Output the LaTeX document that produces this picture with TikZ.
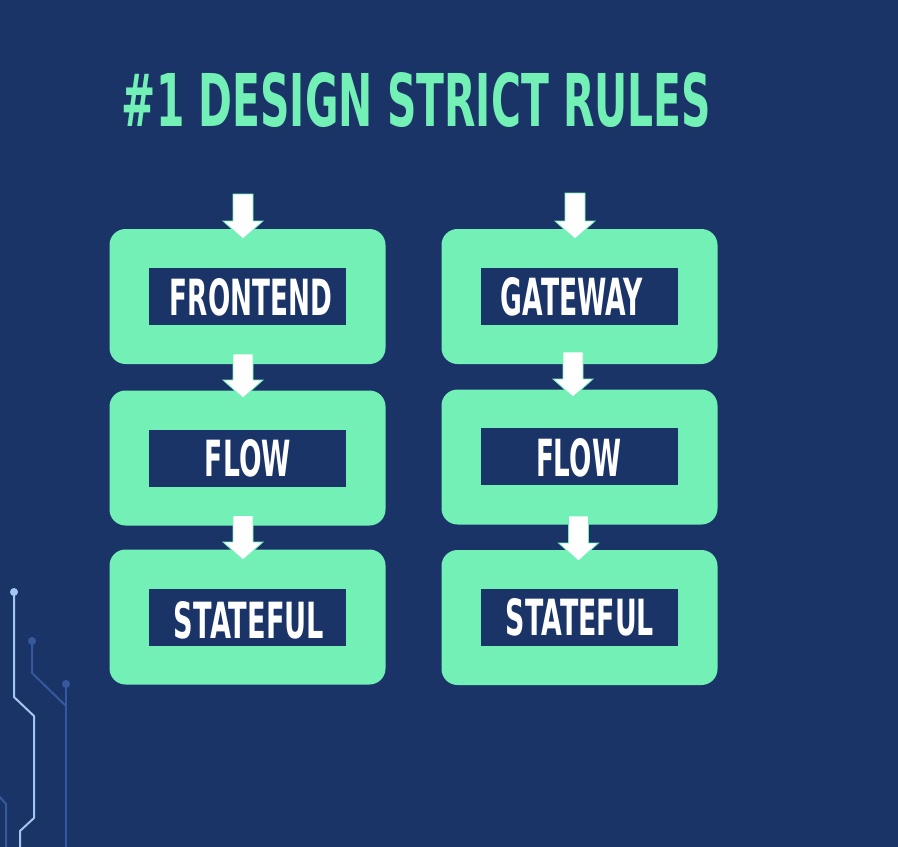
\documentclass[tikz,border=0pt]{standalone}
\usepackage{fontspec}
\usepackage{graphicx}
\setmainfont{DejaVu Sans}
\usetikzlibrary{calc}

\definecolor{navy}{HTML}{1B3468}
\definecolor{mint}{HTML}{72F0B6}
\definecolor{traceLight}{HTML}{A3C6F0}
\definecolor{traceDark}{HTML}{36599E}

% tall condensed caps: text squeezed into a box of given width and height (pt)
\newcommand\squeeze[3]{\resizebox{#1pt}{#2pt}{\bfseries #3}}

% white block arrow: #1 = top of the shaft, #2 = tip
\newcommand\blockarrow[2]{%
  \path[blockarrow] let \p1=(#1), \p2=(#2) in
    (\x2,\y2) -- (\x2-20pt,\y2+18pt) -- (\x2-10pt,\y2+18pt) -- (\x2-10pt,\y1)
    -- (\x2+10pt,\y1) -- (\x2+10pt,\y2+18pt) -- (\x2+20pt,\y2+18pt) -- cycle;}

\begin{document}
\begin{tikzpicture}[x=1pt,y=-1pt,
  stage/.style={fill=mint, rounded corners=16pt, minimum width=276pt,
                minimum height=135pt, inner sep=0pt, outer sep=0pt},
  slot/.style={fill=navy, minimum width=197pt, minimum height=57pt,
               inner sep=0pt, outer sep=0pt},
  tag/.style={text=white, inner sep=0pt},
  heading/.style={text=mint, inner sep=0pt},
  blockarrow/.style={fill=white, draw=mint, line width=0.8pt, line join=miter},
  trace/.style={line width=2pt},
]
\fill[navy] (0,0) rectangle (898,847);
\useasboundingbox (0,0) rectangle (898,847);

% circuit traces in the lower left corner
\draw[trace, traceLight] (14,592) -- (14,697) -- (34,716) -- (34,818) -- (20,831) -- (20,850);
\fill[traceLight] (14,592) circle (4pt);
\draw[trace, traceDark] (32,641) -- (32,673) -- (66,706);
\draw[trace, traceDark] (66,684) -- (66,850);
\draw[trace, traceDark] (-2,795) -- (6,804) -- (6,850);
\fill[traceDark] (32,641) circle (4pt);
\fill[traceDark] (66,684) circle (4pt);

% title
\node[heading] (title) at (416.5,100) {\squeeze{589}{54}{\#1 DESIGN STRICT RULES}};

% left column
\node[stage] (L1) at (247.5,296.5) {};
\node[stage] (L2) at (247.5,458) {};
\node[stage] (L3) at (247.5,617) {};
\node[slot] (sL1) at (L1.center) {};
\node[slot] (sL2) at ($(L2.center)+(0,0.5)$) {};
\node[slot] (sL3) at ($(L3.center)+(0,0.5)$) {};
\node[tag] (tL1) at ($(sL1.center)+(3.5,1)$) {\squeeze{162}{37}{FRONTEND}};
\node[tag] (tL2) at ($(sL2.center)+(0.5,-0.5)$) {\squeeze{86}{37}{FLOW}};
\node[tag] (tL3) at ($(sL3.center)+(1.5,2.5)$) {\squeeze{150}{37}{STATEFUL}};

% right column
\node[stage] (R1) at (579.5,296.5) {};
\node[stage] (R2) at (579.5,457) {};
\node[stage] (R3) at (579.5,617.5) {};
\node[slot] (sR1) at (R1.center) {};
\node[slot] (sR2) at ($(R2.center)+(0,-0.5)$) {};
\node[slot] (sR3) at (R3.center) {};
\node[tag] (tR1) at ($(sR1.center)+(-7.5,0)$) {\squeeze{142}{38}{GATEWAY}};
\node[tag] (tR2) at ($(sR2.center)+(-1,1)$) {\squeeze{85}{38}{FLOW}};
\node[tag] (tR3) at ($(sR3.center)+(0.5,0)$) {\squeeze{148}{37}{STATEFUL}};

% entry points and arrows
\coordinate (inL) at ($(L1.north)+(-4.5,-35)$);
\coordinate (inR) at ($(R1.north)+(-4.5,-36)$);
\blockarrow{inL}{$(L1.north)+(-4.5,10)$}
\blockarrow{$(L1.south)+(-4.5,-10)$}{$(L2.north)+(-4.5,7.5)$}
\blockarrow{$(L2.south)+(-4.5,-10)$}{$(L3.north)+(-4.5,10.5)$}
\blockarrow{inR}{$(R1.north)+(-4.5,10)$}
\blockarrow{$(R1.south)+(-6.5,-12)$}{$(R2.north)+(-6.5,7.5)$}
\blockarrow{$(R2.south)+(-1,-8.5)$}{$(R3.north)+(-1,11)$}
\end{tikzpicture}
\end{document}
